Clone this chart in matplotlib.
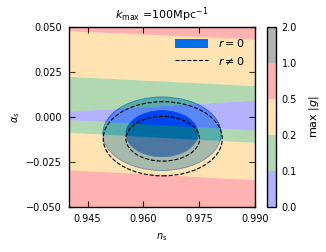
import numpy as np
import matplotlib
matplotlib.use("Agg")
import matplotlib.pyplot as plt
from matplotlib.colors import ListedColormap, BoundaryNorm
from matplotlib.patches import Ellipse, Patch
from matplotlib.lines import Line2D
import matplotlib.colorbar as mcolorbar

# colour levels of max|g|
levels = [0.0, 0.1, 0.2, 0.5, 1.0, 2.0]
level_colors = ["blue", "green", "orange", "red", "black"]

# background bands: edges in alpha_s at ns = 0.94 (left) and ns = 0.99 (right)
ns_edges = [0.94, 0.99]
band_lo_left = [-0.05, -0.0293, -0.0085, -0.0015, 0.0032, 0.0226, 0.0479]
band_hi_left = [-0.0293, -0.0085, -0.0015, 0.0032, 0.0226, 0.0479, 0.05]
band_lo_right = [-0.05, -0.0348, -0.0141, -0.0072, 0.0094, 0.0174, 0.0433]
band_hi_right = [-0.0348, -0.0141, -0.0072, 0.0094, 0.0174, 0.0433, 0.05]
band_value = [0.7, 0.3, 0.15, 0.05, 0.15, 0.3, 0.7]

# confidence ellipses (centre ns, centre alpha, half-width ns, half-height alpha)
r0_center = (0.9650, -0.0093)
r0_1sig = (0.0097, 0.0128)
r0_2sig = (0.0159, 0.0204)
r1_center = (0.9652, -0.0121)
r1_1sig = (0.0099, 0.0124)
r1_2sig = (0.0160, 0.0206)

cmap = ListedColormap(level_colors)
norm = BoundaryNorm(levels, cmap.N)

plt.rcParams["font.size"] = 7
plt.rcParams["mathtext.fontset"] = "dejavusans"

fig = plt.figure(figsize=(3.26, 2.52), dpi=100)
ax = fig.add_axes([0.2117, 0.1786, 0.5705, 0.7143])
cax = fig.add_axes([0.8175, 0.1786, 0.029, 0.7143])

# r = 0 filled contours
ax.add_patch(Ellipse(r0_center, 2 * r0_2sig[0], 2 * r0_2sig[1],
                     facecolor=(0.50, 0.76, 0.96), edgecolor="#2a80f5", lw=0.6, zorder=1))
ax.add_patch(Ellipse(r0_center, 2 * r0_1sig[0], 2 * r0_1sig[1],
                     facecolor="#0064E6", edgecolor="#006FED", lw=0.6, zorder=1))

# max|g| bands on top, semi-transparent
for i in range(len(band_value)):
    col = cmap(norm(band_value[i]))
    ax.fill_between(ns_edges, [band_lo_left[i], band_lo_right[i]],
                    [band_hi_left[i], band_hi_right[i]],
                    color=col, alpha=0.3, lw=0, zorder=2)

# r != 0 dashed contours
for half in (r1_1sig, r1_2sig):
    ax.add_patch(Ellipse(r1_center, 2 * half[0], 2 * half[1], fill=False,
                         edgecolor="black", ls="--", lw=0.8, zorder=3))

ax.set_xlim(0.94, 0.99)
ax.set_ylim(-0.05, 0.05)
ax.set_xticks([0.945, 0.96, 0.975, 0.99])
ax.set_yticks([-0.05, -0.025, 0.0, 0.025, 0.05])
ax.set_xticklabels(["0.945", "0.960", "0.975", "0.990"])
ax.set_yticklabels(["\u22120.050", "\u22120.025", "0.000", "0.025", "0.050"])
ax.tick_params(direction="in", top=True, right=True, length=4, width=0.8, pad=5)
for s in ax.spines.values():
    s.set_linewidth(1.0)
ax.set_xlabel(r"$n_{\rm s}$", fontsize=7, labelpad=5)
ax.set_ylabel(r"$\alpha_s$", fontsize=7, labelpad=3)
ax.set_title(r"$k_{\rm max}$ =100Mpc$^{-1}$", fontsize=8, pad=6)

handles = [Patch(facecolor="#006FED", edgecolor="none"),
           Line2D([], [], color="black", ls="--", lw=0.8)]
leg = ax.legend(handles, [r"$r=0$", r"$r\neq0$"], loc="upper right", frameon=False,
                fontsize=8, handlelength=3, handleheight=0.9, labelspacing=0.5,
                borderaxespad=0.5, handletextpad=0.9)
leg.set_zorder(5)

cb = mcolorbar.ColorbarBase(cax, cmap=cmap, norm=norm, boundaries=levels,
                            ticks=levels, spacing="uniform", alpha=0.3)
cb.set_ticklabels(["0.0", "0.1", "0.2", "0.5", "1.0", "2.0"])
cax.tick_params(length=0, pad=4)
cb.outline.set_linewidth(1.0)
cb.set_label(r"max $|g|$", fontsize=8, labelpad=7)

fig.savefig("out.png", dpi=100)
